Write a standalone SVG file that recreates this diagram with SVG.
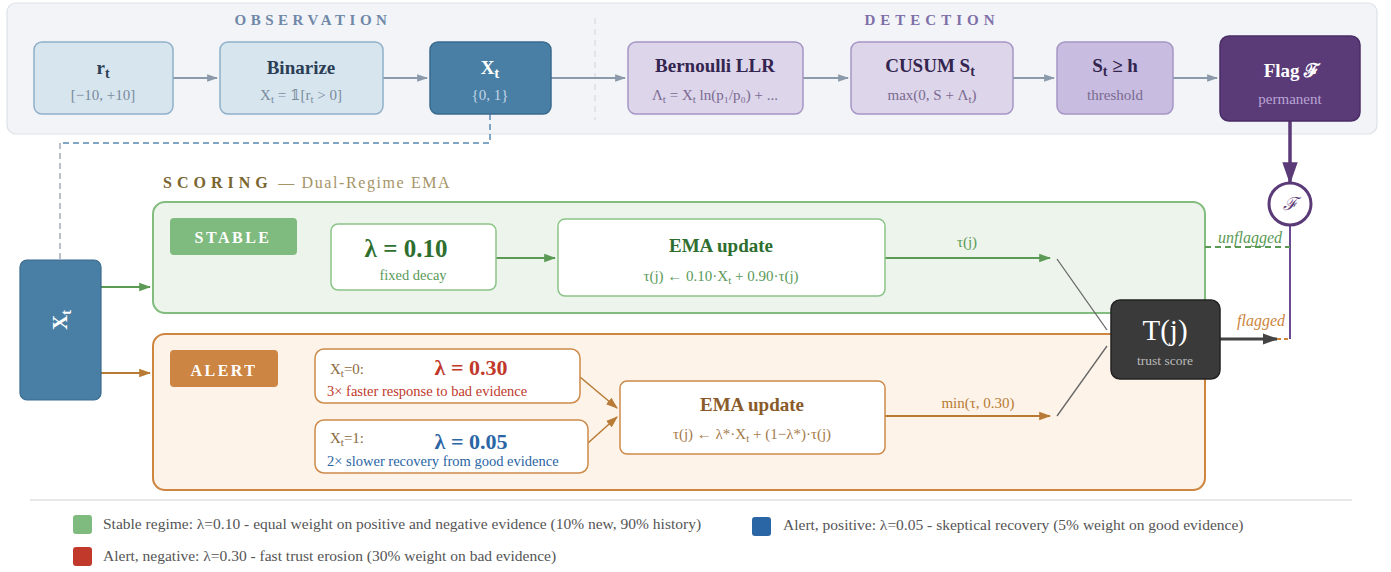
<svg xmlns="http://www.w3.org/2000/svg" width="1391" height="572" viewBox="0 0 1391 572" font-family="'Liberation Serif', 'DejaVu Serif', serif">
<defs>
<style>
text{font-family:"Liberation Serif","DejaVu Serif",serif;}
.ttl{font-weight:bold;font-size:19px;text-anchor:middle;}
.sub{font-size:15px;text-anchor:middle;}
.obs rect{fill:#d7e5ef;stroke:#8fb0c8;stroke-width:1.5;}
.obs .ttl{fill:#2c3e55;}
.obs .sub{fill:#7a8c9c;}
.det rect{fill:#ddd5ea;stroke:#a595c4;stroke-width:1.5;}
.det .ttl{fill:#33254f;}
.det .sub{fill:#7a6a90;}
.wbox{fill:#ffffff;stroke-width:1.5;}
.leg{font-size:15.5px;fill:#555;}
</style>
<marker id="ag" viewBox="0 0 10 10" refX="9" refY="5" markerWidth="11" markerHeight="11" orient="auto" markerUnits="userSpaceOnUse"><path d="M0,1.5 L10,5 L0,8.5 z" fill="#8a9aaa"/></marker>
<marker id="agr" viewBox="0 0 10 10" refX="9" refY="5" markerWidth="12" markerHeight="12" orient="auto" markerUnits="userSpaceOnUse"><path d="M0,1.5 L10,5 L0,8.5 z" fill="#5a9a55"/></marker>
<marker id="aor" viewBox="0 0 10 10" refX="9" refY="5" markerWidth="12" markerHeight="12" orient="auto" markerUnits="userSpaceOnUse"><path d="M0,1.5 L10,5 L0,8.5 z" fill="#b87a35"/></marker>
<marker id="adk" viewBox="0 0 10 10" refX="9" refY="5" markerWidth="16" markerHeight="16" orient="auto" markerUnits="userSpaceOnUse"><path d="M0,1.5 L10,5 L0,8.5 z" fill="#444"/></marker>
<marker id="apu" viewBox="0 0 10 10" refX="9" refY="5" markerWidth="22" markerHeight="22" orient="auto" markerUnits="userSpaceOnUse"><path d="M0,1.5 L10,5 L0,8.5 z" fill="#5b3a78"/></marker>
</defs>
<rect width="1391" height="572" fill="#ffffff"/>

<!-- top panel -->
<rect x="7" y="3" width="1370" height="131" rx="9" fill="#f2f4f8" stroke="#dde1e8" stroke-width="1.2"/>
<line x1="595" y1="18" x2="595" y2="120" stroke="#d0d4da" stroke-width="1" stroke-dasharray="6,5"/>
<text x="313" y="25" text-anchor="middle" font-size="15" font-weight="bold" fill="#7088a8" letter-spacing="4.5">OBSERVATION</text>
<text x="932" y="25" text-anchor="middle" font-size="15" font-weight="bold" fill="#7e6fa8" letter-spacing="5">DETECTION</text>

<!-- scoring header -->
<text x="163" y="188" font-size="16"><tspan font-weight="bold" fill="#7a6530" letter-spacing="5">SCORING</tspan><tspan fill="#a59468" letter-spacing="1.6"> — Dual-Regime EMA</tspan></text>

<!-- panels -->
<rect x="153" y="202" width="1052" height="111" rx="12" fill="#edf4ec" stroke="#82bc7e" stroke-width="2"/>
<rect x="153" y="334" width="1052" height="156" rx="12" fill="#fdf3e8" stroke="#cd853f" stroke-width="2"/>

<!-- connectors -->
<g id="connectors" fill="none">
<line x1="173" y1="78" x2="217" y2="78" stroke="#8a9aaa" stroke-width="2" marker-end="url(#ag)"/>
<line x1="383" y1="78" x2="427" y2="78" stroke="#8a9aaa" stroke-width="2" marker-end="url(#ag)"/>
<line x1="551" y1="78" x2="625" y2="78" stroke="#8a9aaa" stroke-width="2" marker-end="url(#ag)"/>
<line x1="803" y1="78" x2="848" y2="78" stroke="#8a9aaa" stroke-width="2" marker-end="url(#ag)"/>
<line x1="1013" y1="78" x2="1054" y2="78" stroke="#8a9aaa" stroke-width="2" marker-end="url(#ag)"/>
<line x1="1173" y1="78" x2="1217" y2="78" stroke="#8a9aaa" stroke-width="2" marker-end="url(#ag)"/>
<path d="M490,114 V143 H60" stroke="#5a88ad" stroke-width="1.5" stroke-dasharray="6,4"/>
<path d="M60,143 V260" stroke="#8a96a4" stroke-width="1.2" stroke-dasharray="6,4"/>
<line x1="101" y1="287" x2="150" y2="287" stroke="#5a9a55" stroke-width="2" marker-end="url(#agr)"/>
<line x1="101" y1="373" x2="150" y2="373" stroke="#b87a35" stroke-width="2" marker-end="url(#aor)"/>
<line x1="496" y1="258" x2="555" y2="258" stroke="#5a9a55" stroke-width="2" marker-end="url(#agr)"/>
<line x1="885" y1="258" x2="1050" y2="258" stroke="#5a9a55" stroke-width="2.2" marker-end="url(#agr)"/>
<text x="967" y="247" text-anchor="middle" font-size="15" fill="#5a9a55">τ(j)</text>
<line x1="580" y1="377" x2="617" y2="408" stroke="#b87a35" stroke-width="1.5" marker-end="url(#aor)"/>
<line x1="588" y1="443" x2="617" y2="417" stroke="#b87a35" stroke-width="1.5" marker-end="url(#aor)"/>
<line x1="885" y1="416" x2="1050" y2="416" stroke="#b87a35" stroke-width="2.2" marker-end="url(#aor)"/>
<text x="978" y="408" text-anchor="middle" font-size="15" fill="#b87a35">min(τ, 0.30)</text>
<line x1="1057" y1="259" x2="1107" y2="330" stroke="#666" stroke-width="1.3"/>
<line x1="1057" y1="416" x2="1107" y2="346" stroke="#666" stroke-width="1.3"/>
<line x1="1220" y1="339" x2="1277" y2="339" stroke="#444" stroke-width="3" marker-end="url(#adk)"/>
<line x1="1277" y1="339" x2="1290" y2="339" stroke="#cd853f" stroke-width="2" stroke-dasharray="4,3"/>
<line x1="1290" y1="339" x2="1290" y2="226" stroke="#6a4a90" stroke-width="2"/>
<line x1="1205" y1="247" x2="1290" y2="247" stroke="#5a9a55" stroke-width="2" stroke-dasharray="6,4"/>
<line x1="1290" y1="121" x2="1290" y2="182" stroke="#5b3a78" stroke-width="3.5" marker-end="url(#apu)"/>
<text x="1250" y="243" text-anchor="middle" font-size="16" font-style="italic" fill="#5a9a55">unflagged</text>
<text x="1261" y="326" text-anchor="middle" font-size="16" font-style="italic" fill="#cd853f">flagged</text>
</g>

<!-- observation nodes -->
<g id="n-rt" class="obs"><rect x="34" y="42" width="139" height="72" rx="8"/><text class="ttl" x="103" y="74" font-size="20">r<tspan font-size="14" baseline-shift="-4">t</tspan></text><text class="sub" x="103" y="100">[−10, +10]</text></g>
<g id="n-bin" class="obs"><rect x="220" y="42" width="163" height="72" rx="8"/><text class="ttl" x="301" y="74">Binarize</text><text class="sub" x="301" y="100">X<tspan font-size="11" baseline-shift="-3">t</tspan> = 𝟙[r<tspan font-size="11" baseline-shift="-3">t</tspan> &gt; 0]</text></g>
<g id="n-xt"><rect x="430" y="42" width="121" height="72" rx="8" fill="#4a7fa5" stroke="#3a6a8e" stroke-width="1.5"/><text class="ttl" x="490" y="74" fill="#ffffff" font-size="21">X<tspan font-size="15" baseline-shift="-4">t</tspan></text><text class="sub" x="490" y="100" fill="#c3d6e6">{0, 1}</text></g>

<!-- detection nodes -->
<g id="n-llr" class="det"><rect x="628" y="42" width="175" height="72" rx="8"/><text class="ttl" x="715" y="72">Bernoulli LLR</text><text class="sub" x="715" y="100">Λ<tspan font-size="11" baseline-shift="-3">t</tspan> = X<tspan font-size="11" baseline-shift="-3">t</tspan> ln(p₁/p₀) + ...</text></g>
<g id="n-cusum" class="det"><rect x="851" y="42" width="162" height="72" rx="8"/><text class="ttl" x="930" y="72">CUSUM S<tspan font-size="14" baseline-shift="-4">t</tspan></text><text class="sub" x="932" y="100">max(0, S + Λ<tspan font-size="11" baseline-shift="-3">t</tspan>)</text></g>
<g id="n-thr" class="det"><rect x="1057" y="42" width="116" height="72" rx="8" style="fill:#c8bce0"/><text class="ttl" x="1115" y="72">S<tspan font-size="14" baseline-shift="-4">t</tspan> ≥ h</text><text class="sub" x="1115" y="100">threshold</text></g>
<g id="n-flag"><rect x="1220" y="36" width="140" height="85" rx="9" fill="#5b3a78" stroke="#4a2d66" stroke-width="1.5"/><text class="ttl" x="1292" y="77" font-size="25" fill="#ffffff">Flag ℱ</text><text class="sub" x="1290" y="104" fill="#b9a6d4">permanent</text></g>

<!-- flag circle -->
<g id="n-fcircle"><circle cx="1290" cy="204" r="21" fill="#ffffff" stroke="#5b3a78" stroke-width="3"/><text x="1290" y="210" text-anchor="middle" font-size="18" font-style="italic" fill="#5b3a78">ℱ</text></g>

<!-- left Xt -->
<g id="n-xt2"><rect x="20" y="260" width="81" height="140" rx="7" fill="#4a7fa5" stroke="#3a6a8e" stroke-width="1.2"/><text x="0" y="0" transform="translate(67,320) rotate(-90)" text-anchor="middle" font-size="21" font-weight="bold" fill="#ffffff">X<tspan font-size="15" baseline-shift="-4">t</tspan></text></g>

<!-- stable regime -->
<g id="n-stable"><rect x="170" y="218" width="127" height="37" rx="4" fill="#7fba7e"/><text x="233" y="243" text-anchor="middle" font-size="16" font-weight="bold" fill="#ffffff" letter-spacing="2.5">STABLE</text></g>
<g id="n-lam010"><rect class="wbox" x="331" y="224" width="165" height="66" rx="7" stroke="#8cc488"/><text x="406" y="257" text-anchor="middle" font-size="25" font-weight="bold" fill="#2e6e2e">λ = 0.10</text><text x="413" y="280" text-anchor="middle" font-size="14.5" fill="#5a9a5a">fixed decay</text></g>
<g id="n-ema1"><rect class="wbox" x="558" y="219" width="327" height="77" rx="7" stroke="#8cc488"/><text x="721" y="252" text-anchor="middle" font-size="19" font-weight="bold" fill="#2e6e2e">EMA update</text><text x="721" y="281" text-anchor="middle" font-size="15" fill="#5a9a5a">τ(j) ← 0.10·X<tspan font-size="11" baseline-shift="-3">t</tspan> + 0.90·τ(j)</text></g>

<!-- alert regime -->
<g id="n-alert"><rect x="170" y="350" width="108" height="37" rx="4" fill="#cd8544"/><text x="224" y="376" text-anchor="middle" font-size="16" font-weight="bold" fill="#ffffff" letter-spacing="2.5">ALERT</text></g>
<g id="n-lam030"><rect class="wbox" x="315" y="349" width="265" height="54" rx="9" stroke="#cd8a4a"/><text x="330" y="374" font-size="15" fill="#8a6a40">X<tspan font-size="11" baseline-shift="-3">t</tspan>=0:</text><text x="471" y="375" text-anchor="middle" font-size="22" font-weight="bold" fill="#c0392b">λ = 0.30</text><text x="327" y="396" font-size="14.5" fill="#c0392b">3× faster response to bad evidence</text></g>
<g id="n-lam005"><rect class="wbox" x="315" y="420" width="273" height="53" rx="9" stroke="#cd8a4a"/><text x="330" y="443" font-size="15" fill="#8a6a40">X<tspan font-size="11" baseline-shift="-3">t</tspan>=1:</text><text x="471" y="449" text-anchor="middle" font-size="22" font-weight="bold" fill="#2a65a5">λ = 0.05</text><text x="327" y="466" font-size="14.5" fill="#2a65a5">2× slower recovery from good evidence</text></g>
<g id="n-ema2"><rect class="wbox" x="620" y="381" width="265" height="73" rx="7" stroke="#cd8a4a"/><text x="752" y="411" text-anchor="middle" font-size="19" font-weight="bold" fill="#8a5a2a">EMA update</text><text x="752" y="439" text-anchor="middle" font-size="15" fill="#a57a4a">τ(j) ← λ*·X<tspan font-size="11" baseline-shift="-3">t</tspan> + (1−λ*)·τ(j)</text></g>

<!-- trust score -->
<g id="n-tj"><rect x="1111" y="300" width="109" height="79" rx="9" fill="#3a3a3a" stroke="#222" stroke-width="1.5"/><text x="1165" y="340" text-anchor="middle" font-size="29" fill="#ffffff">T(j)</text><text x="1165" y="365" text-anchor="middle" font-size="13.5" fill="#bbbbbb">trust score</text></g>

<!-- legend -->
<g id="legend">
<line x1="30" y1="500" x2="1352" y2="500" stroke="#e0e0e0" stroke-width="1.5"/>
<rect x="73" y="515" width="19" height="19" rx="3" fill="#7fba7e"/>
<text class="leg" x="103" y="529">Stable regime: λ=0.10 - equal weight on positive and negative evidence (10% new, 90% history)</text>
<rect x="752" y="517" width="19" height="19" rx="3" fill="#2a65a5"/>
<text class="leg" x="783" y="530">Alert, positive: λ=0.05 - skeptical recovery (5% weight on good evidence)</text>
<rect x="73" y="547" width="19" height="19" rx="3" fill="#c0392b"/>
<text class="leg" x="103" y="561">Alert, negative: λ=0.30 - fast trust erosion (30% weight on bad evidence)</text>
</g>
</svg>
